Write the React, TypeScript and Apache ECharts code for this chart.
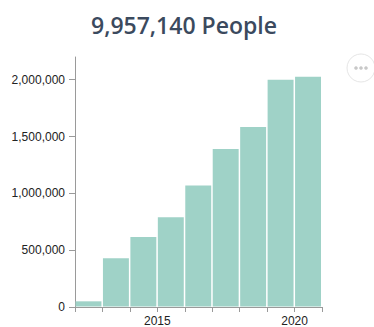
import React, { useEffect, useRef } from "react";
import * as echarts from "echarts";

const titleText = "9,957,140 People";
const years = [2012, 2013, 2014, 2015, 2016, 2017, 2018, 2019, 2020];
const people = [50000, 430000, 615000, 790000, 1070000, 1390000, 1585000, 2000000, 2027000];
const yTicks = [0, 500000, 1000000, 1500000, 2000000];
const xLabelYears = [2015, 2020];

export default function App() {
  const ref = useRef<HTMLDivElement>(null);
  useEffect(() => {
    if (!ref.current) return;
    const chart = echarts.init(ref.current, null, { renderer: "svg" });
    const data = years.map((y, i) => [y, y + 1, people[i]]);
    chart.setOption({
      animation: false,
      title: {
        text: titleText,
        left: 86,
        top: 8,
        textStyle: {
          fontFamily: "Open Sans",
          fontWeight: 600,
          fontSize: 23,
          color: "#3b4a5e",
        },
      },
      grid: { left: 75, right: 52, top: 57, bottom: 19.5, containLabel: false },
      xAxis: {
        type: "value",
        min: 2012,
        max: 2021,
        interval: 1,
        splitLine: { show: false },
        axisLine: { show: true, onZero: false, lineStyle: { color: "#9a9a9a", width: 1 } },
        axisTick: { show: true, length: 5, lineStyle: { color: "#9a9a9a" } },
        axisLabel: {
          margin: 8,
          fontFamily: "Liberation Sans",
          fontSize: 12,
          color: "#222",
          formatter: (v: number) => (xLabelYears.includes(v) ? String(v) : ""),
        },
      },
      yAxis: {
        type: "value",
        min: 0,
        max: 2200000,
        splitLine: { show: false },
        axisLine: { show: true, lineStyle: { color: "#9a9a9a", width: 1 } },
        axisTick: { show: true, length: 6, customValues: yTicks, lineStyle: { color: "#9a9a9a" } },
        axisLabel: {
          margin: 10,
          fontFamily: "Liberation Sans",
          fontSize: 12,
          color: "#222",
          customValues: yTicks,
          formatter: (v: number) => v.toLocaleString("en-US"),
        },
      },
      series: [
        {
          type: "custom",
          data,
          renderItem: (params: any, api: any) => {
            const p0 = api.coord([api.value(0), api.value(2)]);
            const p1 = api.coord([api.value(1), 0]);
            return {
              type: "rect",
              shape: { x: p0[0] + 0.5, y: p0[1], width: p1[0] - p0[0] - 1.5, height: p1[1] - p0[1] - 0.5 },
              style: { fill: "#9fd2c7" },
            };
          },
        },
      ],
      graphic: [
        {
          type: "circle",
          shape: { cx: 361, cy: 68, r: 14 },
          style: { fill: "#fff", stroke: "#e6e6e6", lineWidth: 1 },
        },
        { type: "circle", shape: { cx: 356, cy: 68, r: 1.8 }, style: { fill: "#c8c8c8" } },
        { type: "circle", shape: { cx: 361, cy: 68, r: 1.8 }, style: { fill: "#c8c8c8" } },
        { type: "circle", shape: { cx: 366, cy: 68, r: 1.8 }, style: { fill: "#c8c8c8" } },
      ],
    });
    return () => chart.dispose();
  }, []);
  return <div ref={ref} style={{ width: 374, height: 327, position: "absolute", left: 0, top: 0 }} />;
}
